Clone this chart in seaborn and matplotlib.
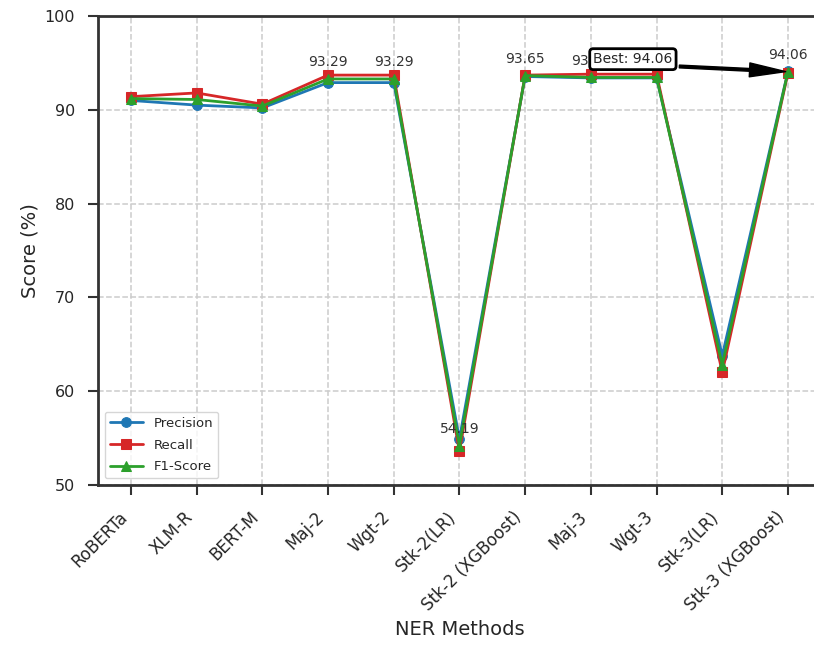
import matplotlib
matplotlib.use("Agg")
import matplotlib.pyplot as plt
import seaborn as sns
import pandas as pd

methods = ["RoBERTa", "XLM-R", "BERT-M", "Maj-2", "Wgt-2", "Stk-2(LR)",
           "Stk-2 (XGBoost)", "Maj-3", "Wgt-3", "Stk-3(LR)", "Stk-3 (XGBoost)"]
precision = [91.0, 90.5, 90.2, 92.9, 92.9, 54.9, 93.55, 93.4, 93.4, 63.8, 94.1]
recall    = [91.4, 91.8, 90.6, 93.7, 93.7, 53.6, 93.7, 93.8, 93.8, 62.0, 93.95]
f1        = [91.2, 91.1, 90.4, 93.29, 93.29, 54.19, 93.65, 93.45, 93.45, 62.8, 94.06]
labelled = [3, 4, 5, 6, 7, 10]

sns.set_style("ticks")
plt.rcParams['font.family'] = ['DejaVu Sans']

fig = plt.figure(figsize=(8.14, 6.48), dpi=100)
ax = fig.add_axes([0.1204, 0.2515, 0.888, 0.7238])

series = [("Precision", precision, "#1f77b4", "o"),
          ("Recall", recall, "#d62728", "s"),
          ("F1-Score", f1, "#2ca02c", "^")]
for name, vals, col, mk in series:
    df = pd.DataFrame({"Method": methods, "Score": vals})
    sns.lineplot(data=df, x="Method", y="Score", ax=ax, color=col, marker=mk,
                 markersize=7, linewidth=2, label=name, sort=False,
                 markeredgecolor=col)

for i in labelled:
    ax.annotate(f"{f1[i]:.2f}", (i, f1[i]), xytext=(0, 7), textcoords="offset points",
                ha="center", va="bottom", fontsize=10, color="#333333")

best = max(range(len(f1)), key=lambda k: f1[k])
ax.annotate(f"Best: {f1[best]:.2f}", xy=(best, f1[best]), xytext=(7.64, 95.4),
            ha="center", va="center", fontsize=10,
            bbox=dict(boxstyle="round,pad=0.25", fc="white", ec="black", lw=2),
            arrowprops=dict(facecolor="black", edgecolor="black", width=2.0,
                            headwidth=10, headlength=26, shrink=0.02))

ax.set_xlim(-0.5, len(methods) - 0.5)
ax.set_ylim(50, 100)
ax.set_xticks(range(len(methods)))
ax.set_xticklabels(methods, rotation=45, ha="right", fontsize=12)
ax.tick_params(axis="y", labelsize=11.5)
ax.tick_params(direction="out", length=7.5, width=1.5, pad=9, color="#333333")
ax.set_xlabel("NER Methods", fontsize=14)
ax.set_ylabel("Score (%)", fontsize=14)
ax.grid(True, linestyle="--", color="#cccccc", linewidth=1.1)
for s in ax.spines.values():
    s.set_linewidth(2)
    s.set_color("#333333")
ax.legend(loc="lower left", fontsize=9.5, framealpha=0.8, handlelength=2.5,
          labelspacing=0.65)

fig.savefig("out.png", dpi=100)
